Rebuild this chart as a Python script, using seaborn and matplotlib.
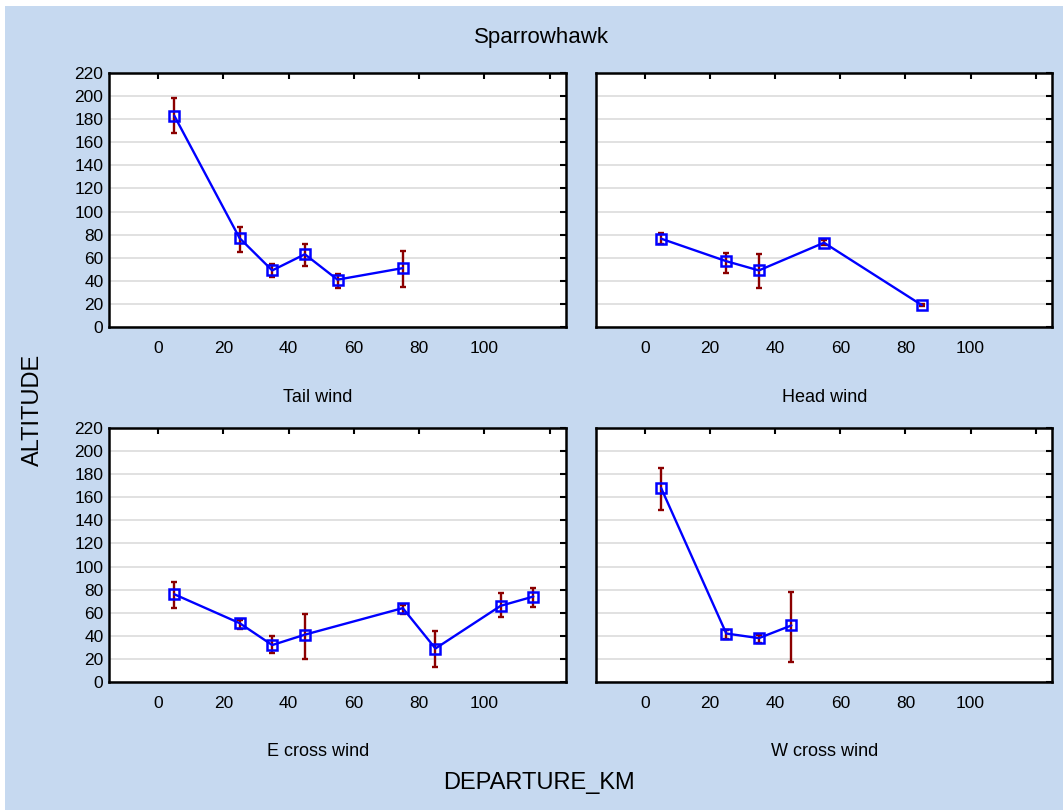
import matplotlib
matplotlib.use("Agg")
import matplotlib.pyplot as plt
from matplotlib.patches import Rectangle
import numpy as np
import pandas as pd
import seaborn as sns

# ---- data: mean altitude with lower/upper error limits per departure distance ----
tail_x = [5, 25, 35, 45, 55, 75]
tail_mean = [183, 77, 49, 63, 41, 51]
tail_lo = [168, 65, 43, 53, 34, 35]
tail_hi = [198, 87, 55, 72, 46, 66]

head_x = [5, 25, 35, 55, 85]
head_mean = [76.5, 57, 49, 73, 19]
head_lo = [72, 47, 34, 71, 18]
head_hi = [81, 64, 63, 75, 20]

ecross_x = [5, 25, 35, 45, 75, 85, 105, 115]
ecross_mean = [76, 51, 32, 41, 64, 29, 66, 74]
ecross_lo = [64, 46, 25, 20, 59, 13, 56, 65]
ecross_hi = [87, 54, 40, 59, 67, 44, 77, 81]

wcross_x = [5, 25, 35, 45]
wcross_mean = [168, 42, 38, 49]
wcross_lo = [149, 37, 34, 17]
wcross_hi = [185, 45, 41, 78]

panel_titles = ["Tail wind", "Head wind", "E cross wind", "W cross wind"]
x_ticks = [0, 20, 40, 60, 80, 100, 120]
x_tick_labels = ["0", "20", "40", "60", "80", "100", ""]
y_ticks = list(range(0, 221, 20))

panels = [
    (tail_x, tail_mean, tail_lo, tail_hi),
    (head_x, head_mean, head_lo, head_hi),
    (ecross_x, ecross_mean, ecross_lo, ecross_hi),
    (wcross_x, wcross_mean, wcross_lo, wcross_hi),
]

sns.set_style("white")
plt.rcParams["font.family"] = ["Liberation Sans", "DejaVu Sans"]
plt.rcParams["text.color"] = "black"

BG = "#C6D9F0"
W, H = 1063, 810
fig = plt.figure(figsize=(W / 100, H / 100), dpi=100)
fig.patch.set_facecolor("white")
fig.add_artist(Rectangle((5 / W, 0), 1 - 5 / W, 1 - 6 / H, transform=fig.transFigure,
                         facecolor=BG, edgecolor="none", zorder=0))

# axes rectangles in pixels: left, top, right, bottom
boxes = [(109, 73, 566, 327), (596, 73, 1052, 327),
         (109, 428, 566, 682), (596, 428, 1052, 682)]
label_pos = [(318, 397), (825, 397), (318, 751), (825, 751)]

for i, ((xs, m, lo, hi), (l, t, r, b)) in enumerate(zip(panels, boxes)):
    ax = fig.add_axes([l / W, 1 - b / H, (r - l) / W, (b - t) / H])
    ax.set_facecolor("white")
    df = pd.DataFrame({"DEPARTURE_KM": xs, "ALTITUDE": m})
    m = np.array(m, dtype=float)
    yerr = np.vstack([m - np.array(lo), np.array(hi) - m])
    ax.errorbar(xs, m, yerr=yerr, fmt="none", ecolor="#8B0000",
                elinewidth=1.7, capsize=2.4, capthick=1.7, zorder=2)
    sns.lineplot(data=df, x="DEPARTURE_KM", y="ALTITUDE", ax=ax, sort=False,
                 errorbar=None, color="#0000FF", linewidth=1.7, marker="s",
                 markersize=6.5, markerfacecolor="none", markeredgecolor="#0000FF",
                 markeredgewidth=1.8, zorder=3)
    ax.set_xlim(-15, 125)
    ax.set_ylim(0, 220)
    ax.set_xticks(x_ticks)
    ax.set_xticklabels(x_tick_labels)
    ax.set_yticks(y_ticks)
    ax.yaxis.grid(True, color="#DCDCDC", linewidth=1.2)
    ax.set_axisbelow(True)
    ax.tick_params(direction="in", length=4, width=1.5, top=True, right=True,
                   labelsize=12.5, colors="black")
    ax.tick_params(axis="x", pad=10)
    ax.tick_params(axis="y", pad=4)
    if i % 2 == 1:
        ax.set_yticklabels([])
    for s in ax.spines.values():
        s.set_color("black")
        s.set_linewidth(1.8)
    ax.set_xlabel("")
    ax.set_ylabel("")
    lx, ly = label_pos[i]
    fig.text(lx / W, 1 - ly / H, panel_titles[i], ha="center", va="center",
             fontsize=13, color="black")

fig.text(541 / W, 1 - 37 / H, "Sparrowhawk", ha="center", va="center",
         fontsize=16, color="black")
fig.text(539 / W, 1 - 783 / H, "DEPARTURE_KM", ha="center", va="center",
         fontsize=17, color="black")
fig.text(33 / W, 1 - 410 / H, "ALTITUDE", ha="center", va="center",
         fontsize=17, rotation=90, color="black")

fig.savefig("out.png", dpi=100, facecolor=fig.get_facecolor())
